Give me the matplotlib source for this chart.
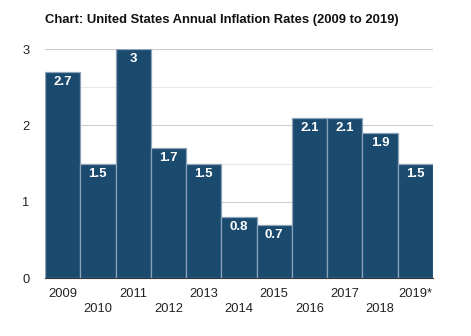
import matplotlib.pyplot as plt
from matplotlib.ticker import MultipleLocator

plt.rcParams["font.family"] = ["Liberation Sans", "DejaVu Sans"]

# chart data
years = ["2009", "2010", "2011", "2012", "2013", "2014", "2015", "2016", "2017", "2018", "2019*"]
rates = [2.7, 1.5, 3.0, 1.7, 1.5, 0.8, 0.7, 2.1, 2.1, 1.9, 1.5]
labels = ["2.7", "1.5", "3", "1.7", "1.5", "0.8", "0.7", "2.1", "2.1", "1.9", "1.5"]

bar_color = "#1b4a6f"
edge_color = "#8aa3b8"

fig = plt.figure(figsize=(4.71, 3.36), dpi=100)
ax = fig.add_axes([0.0955, 0.1726, 0.8235, 0.6814])

x = range(len(years))
ax.bar(x, rates, width=1.0, color=bar_color, edgecolor=edge_color, linewidth=0.9, zorder=3)

for i, (v, t) in enumerate(zip(rates, labels)):
    ax.annotate(t, (i, v), xytext=(0, -10), textcoords="offset pixels",
                ha="center", va="center", color="white", fontsize=9.5,
                fontweight="bold", zorder=4)

ax.set_xlim(-0.5, len(years) - 0.5)
ax.set_ylim(0, 3)
ax.yaxis.set_major_locator(MultipleLocator(1))
ax.yaxis.set_minor_locator(MultipleLocator(0.5))
ax.grid(axis="y", which="major", color="#cccccc", linewidth=0.8, zorder=0)
ax.grid(axis="y", which="minor", color="#e8e8e8", linewidth=0.8, zorder=0)

for s in ["top", "right", "left"]:
    ax.spines[s].set_visible(False)
ax.spines["bottom"].set_color("#333333")
ax.spines["bottom"].set_linewidth(0.8)

ax.tick_params(axis="y", which="both", length=0, labelsize=9.3, labelcolor="#222222", pad=11)
ax.tick_params(axis="x", length=0, labelsize=9.3, labelcolor="#222222", pad=7)
ax.set_xticks(list(x))
ax.set_xticklabels([y if i % 2 == 0 else "\n" + y for i, y in enumerate(years)], linespacing=1.4)

fig.text(45 / 471, 1 - 20 / 336, "Chart: United States Annual Inflation Rates (2009 to 2019)",
         fontsize=9.35, fontweight="bold", ha="left", va="center", color="#111111")

fig.savefig("out.png", dpi=100)
